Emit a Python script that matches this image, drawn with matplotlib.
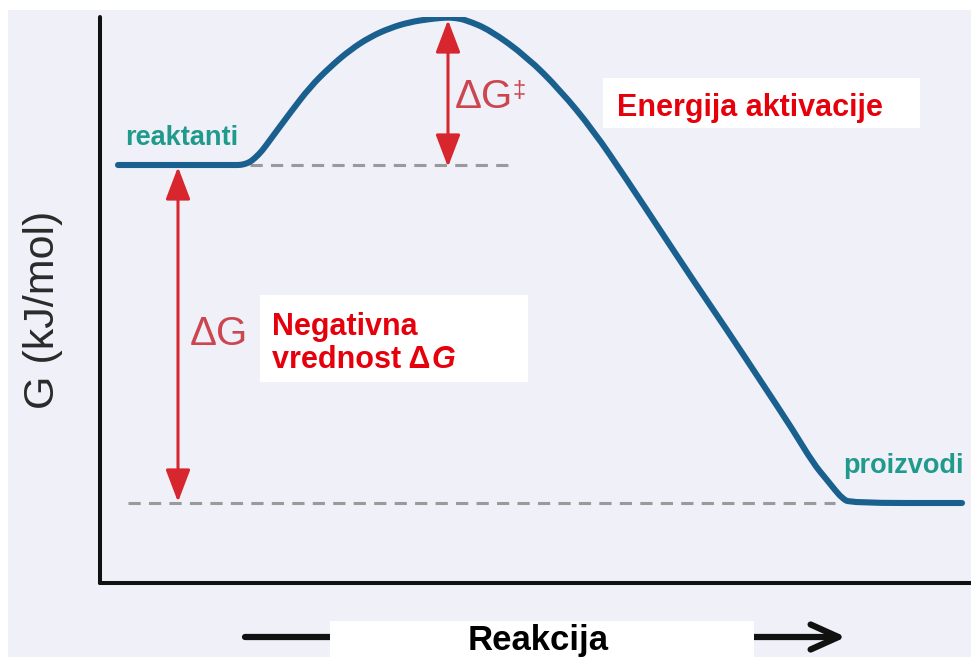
import matplotlib.pyplot as plt
from matplotlib.patches import Rectangle, PathPatch
from matplotlib.path import Path

plt.rcParams['font.family'] = ['Liberation Sans', 'DejaVu Sans']

# reaction coordinate and free energy read along the profile
reaction_x = [18, 135, 140, 145, 150, 155, 162, 170, 190, 210, 230, 250, 270,
              290, 310, 330, 340, 348, 356, 366, 390, 427, 460, 493, 527, 560,
              593, 627, 660, 693, 713, 727, 735, 742, 750, 862]
free_energy = [418, 418, 418, 419, 421, 425, 432, 443, 470, 496, 516, 533, 546,
               555, 561, 564, 565, 565.5, 565, 563, 553, 526, 493, 453, 403, 353,
               303, 253, 203, 153, 120, 103, 93, 85, 80, 80]

G_reactants = 418
G_products = 80
G_peak = 565

bg = '#f0f0f8'
blue = '#19608f'
teal = '#1f9a8c'
red = '#e6000b'
arrow_red = '#d7262e'
soft_red = '#cc4650'

fig = plt.figure(figsize=(9.71, 6.57), dpi=100)
fig.patch.set_facecolor(bg)
fig.patches.append(Rectangle((0, 1 - 10 / 657), 1, 10 / 657, transform=fig.transFigure,
                             facecolor='white', edgecolor='none', zorder=0))
fig.patches.append(Rectangle((0, 0), 8 / 971, 1, transform=fig.transFigure,
                             facecolor='white', edgecolor='none', zorder=0))

ax = fig.add_axes([100 / 971, 74 / 657, 871 / 971, 566 / 657])
ax.set_facecolor('none')
ax.set_xlim(0, 871)
ax.set_ylim(0, 566)
ax.set_xticks([])
ax.set_yticks([])
for side in ['top', 'right']:
    ax.spines[side].set_visible(False)
for side in ['left', 'bottom']:
    ax.spines[side].set_linewidth(2.9)
    ax.spines[side].set_color('#111111')
    ax.spines[side].set_capstyle('round')

# reference levels
ax.plot([150, 415], [G_reactants, G_reactants], color='#9a9a9a', lw=2.2,
        linestyle=(0, (4, 2.7)), zorder=2)
ax.plot([28, 735], [G_products, G_products], color='#9a9a9a', lw=2.2,
        linestyle=(0, (4, 2.7)), zorder=2)

# energy profile, the read points used as control points of a smooth path
pts = list(zip(reaction_x, free_energy))
verts = [pts[0]]
codes = [Path.MOVETO]
for i in range(1, len(pts) - 1):
    mid = ((pts[i][0] + pts[i + 1][0]) / 2, (pts[i][1] + pts[i + 1][1]) / 2)
    verts += [pts[i], mid]
    codes += [Path.CURVE3, Path.CURVE3]
verts.append(pts[-1])
codes.append(Path.LINETO)
ax.add_patch(PathPatch(Path(verts, codes), facecolor='none', edgecolor=blue, lw=4.4,
                       capstyle='round', joinstyle='round', zorder=4))

# double arrows for the two energy differences
arrow_kw = dict(arrowstyle='<|-|>, head_length=0.5, head_width=0.19', color=arrow_red,
                lw=2.2, mutation_scale=40, shrinkA=0, shrinkB=0)
ax.annotate('', xy=(348, G_peak - 2), xytext=(348, G_reactants - 2), arrowprops=arrow_kw, zorder=3)
ax.annotate('', xy=(78, G_reactants - 2), xytext=(78, G_products + 1), arrowprops=arrow_kw, zorder=3)

# labels for the states
ax.text(25, 438, 'reaktanti', color=teal, fontsize=19.5, fontweight='bold', va='baseline')
ax.text(743, 110, 'proizvodi', color=teal, fontsize=19.5, fontweight='bold', va='baseline')

# activation energy
t_dg = ax.text(355, 475, 'ΔG', color=soft_red, fontsize=29, va='baseline')
ax.add_patch(Rectangle((503, 455), 317, 50, facecolor='white', edgecolor='none', zorder=5))
ax.text(517, 467, 'Energija aktivacije', color=red, fontsize=22, fontweight='bold',
        va='baseline', zorder=6)

# reaction free energy
ax.text(90, 238, 'ΔG', color=soft_red, fontsize=29, va='baseline')
ax.add_patch(Rectangle((160, 201), 268, 87, facecolor='white', edgecolor='none', zorder=5))
ax.text(172, 248, 'Negativna', color=red, fontsize=22, fontweight='bold',
        va='baseline', zorder=6)
t2 = ax.text(172, 215, 'vrednost Δ', color=red, fontsize=22, fontweight='bold',
             va='baseline', zorder=6)
fig.canvas.draw()
inv = ax.transData.inverted()
bb = t2.get_window_extent().transformed(inv)
ax.text(bb.x1 + 1, 215, 'G', color=red, fontsize=22, fontweight='bold', style='italic',
        va='baseline', zorder=6)
bb = t_dg.get_window_extent().transformed(inv)
ax.text(bb.x1 - 1, 486, '‡', color=soft_red, fontsize=17, va='baseline')

# reaction direction arrow under the axis
ax.annotate('', xy=(746, -54), xytext=(145, -54), annotation_clip=False,
            arrowprops=dict(arrowstyle='->, head_length=2.0, head_width=0.9',
                            color='#111111', lw=4.5, shrinkA=0, shrinkB=0))
ax.add_patch(Rectangle((230, -90), 424, 52, facecolor='white', edgecolor='none',
                       zorder=5, clip_on=False))
ax.text(438, -67, 'Reakcija', color='black', fontsize=25, fontweight='bold',
        ha='center', va='baseline', zorder=6, clip_on=False)

fig.text(43 / 971, 1 - 310 / 657, 'G (kJ/mol)', rotation=90, fontsize=31,
         color='#2a2a2a', ha='center', va='center')

fig.savefig('out.png', dpi=100, facecolor=fig.get_facecolor())
